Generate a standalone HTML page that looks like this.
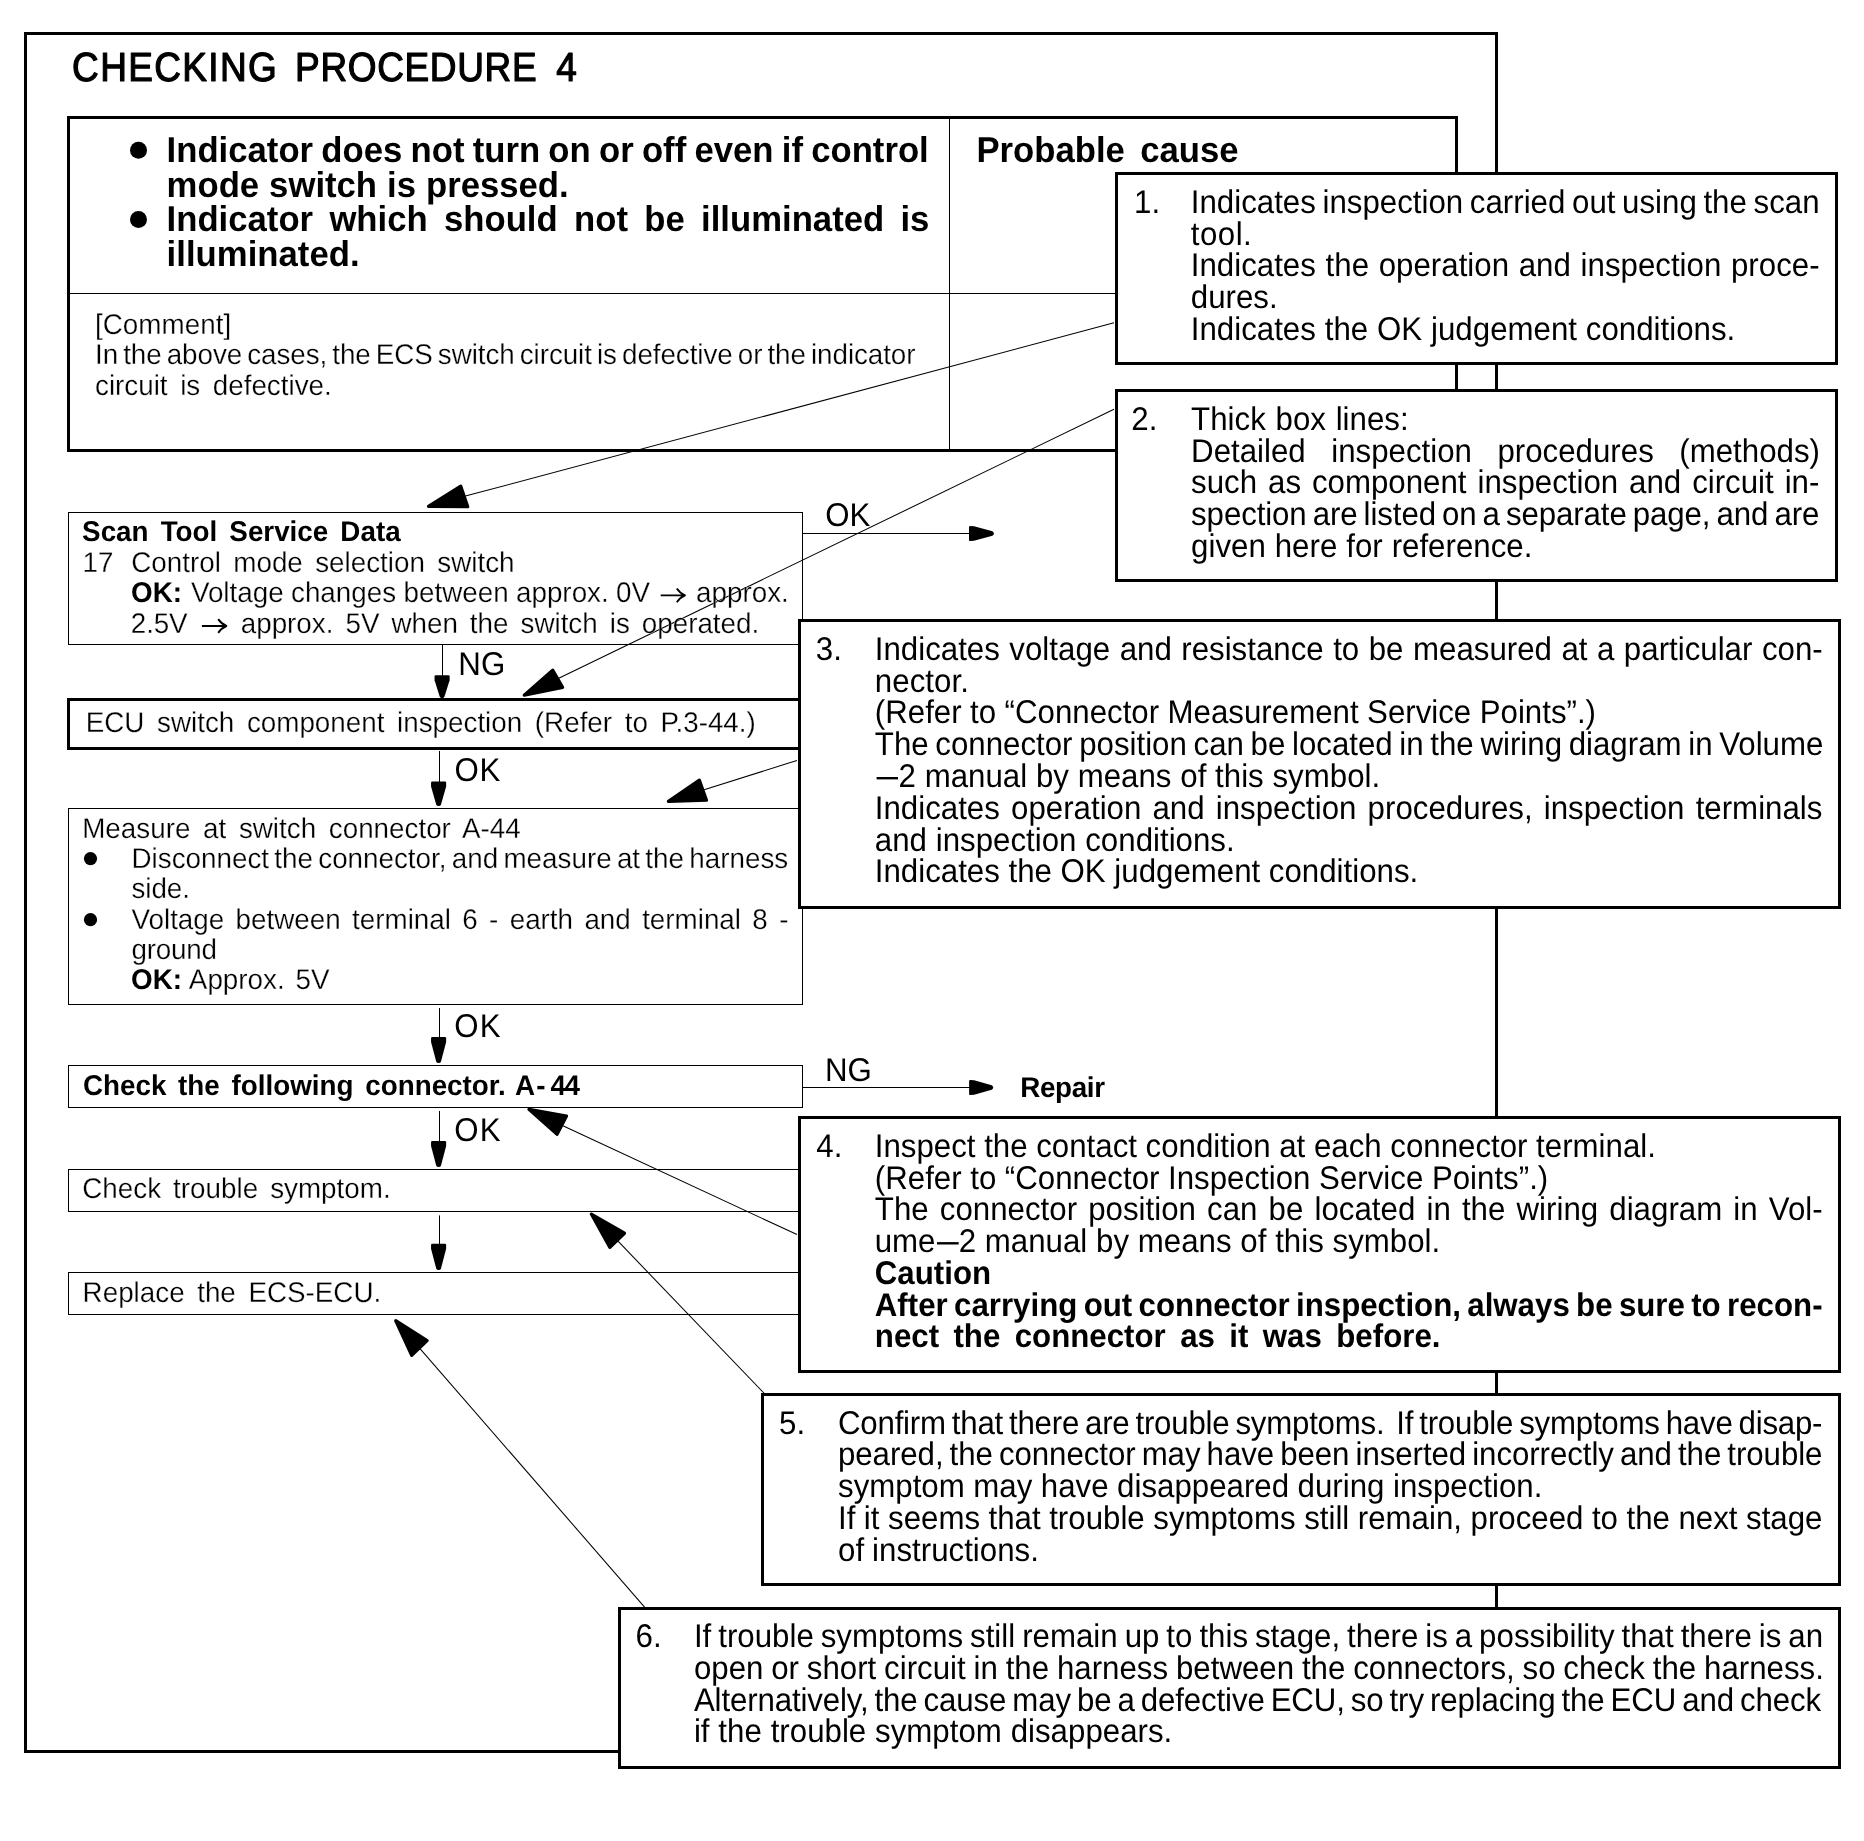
<!DOCTYPE html>
<html lang="en"><head><meta charset="utf-8"><title>Checking Procedure 4</title>
<style>html,body{margin:0;padding:0;background:#fff}body{width:1864px;height:1841px;overflow:hidden;position:relative}svg{display:block;position:absolute;left:0;top:0;filter:grayscale(1)}text{font-family:"Liberation Sans",sans-serif;fill:#000;white-space:pre;text-rendering:geometricPrecision}.b{font-weight:700}.t{stroke:#fff;stroke-width:0.25px}.f{stroke:#000;stroke-width:1.1px;stroke-linejoin:round}</style></head><body>
<svg width="1864" height="1841" viewBox="0 0 1864 1841">
<rect x="0" y="0" width="1864" height="1841" fill="#fff"/>
<rect x="25.50" y="33.50" width="1471.00" height="1718.00" fill="none" stroke="#000" stroke-width="3"/>
<rect x="68.50" y="117.50" width="1388.00" height="333.00" fill="none" stroke="#000" stroke-width="3"/>
<line x1="949.50" y1="118.00" x2="949.50" y2="450.00" stroke="#000" stroke-width="1"/>
<line x1="69.00" y1="293.50" x2="1456.00" y2="293.50" stroke="#000" stroke-width="1"/>
<circle cx="138.50" cy="150.30" r="8.50" fill="#000"/>
<circle cx="138.50" cy="219.40" r="8.50" fill="#000"/>
<line x1="465.40" y1="496.10" x2="1114.00" y2="322.80" stroke="#000" stroke-width="1.05"/>
<polygon points="428.44,506.37 460.77,486.17 467.75,506.73" fill="#000" stroke="#000" stroke-width="3.2" stroke-linejoin="round"/>
<line x1="558.75" y1="678.20" x2="1114.00" y2="409.30" stroke="#000" stroke-width="1.05"/>
<polygon points="524.24,695.10 552.67,670.17 562.63,687.37" fill="#000" stroke="#000" stroke-width="3.2" stroke-linejoin="round"/>
<rect x="68.50" y="512.50" width="734.00" height="132.00" fill="none" stroke="#000" stroke-width="1"/>
<rect x="68.50" y="699.50" width="733.00" height="49.00" fill="none" stroke="#000" stroke-width="3"/>
<rect x="68.50" y="808.50" width="734.00" height="196.00" fill="none" stroke="#000" stroke-width="1"/>
<rect x="68.50" y="1065.50" width="734.00" height="42.00" fill="none" stroke="#000" stroke-width="1"/>
<rect x="68.50" y="1169.50" width="734.00" height="42.00" fill="none" stroke="#000" stroke-width="1"/>
<rect x="68.50" y="1272.50" width="734.00" height="42.00" fill="none" stroke="#000" stroke-width="1"/>
<circle cx="90.50" cy="858.60" r="6.60" fill="#000"/>
<circle cx="90.50" cy="919.70" r="6.60" fill="#000"/>
<line x1="442.50" y1="645.00" x2="442.50" y2="677.20" stroke="#000" stroke-width="1"/>
<path d="M434.55,676.40 Q434.55,675.20 435.75,675.20 L448.45,675.20 Q449.65,675.20 449.65,676.40 L449.65,680.20 L444.50,696.60 Q443.90,698.20 442.10,698.20 Q440.30,698.20 439.70,696.60 L434.55,680.20 Z" fill="#000"/>
<line x1="439.50" y1="751.00" x2="439.50" y2="783.40" stroke="#000" stroke-width="1"/>
<path d="M431.05,782.60 Q431.05,781.40 432.25,781.40 L444.95,781.40 Q446.15,781.40 446.15,782.60 L446.15,786.40 L441.00,804.40 Q440.40,806.00 438.60,806.00 Q436.80,806.00 436.20,804.40 L431.05,786.40 Z" fill="#000"/>
<line x1="439.50" y1="1008.00" x2="439.50" y2="1039.00" stroke="#000" stroke-width="1"/>
<path d="M431.05,1038.20 Q431.05,1037.00 432.25,1037.00 L444.95,1037.00 Q446.15,1037.00 446.15,1038.20 L446.15,1042.00 L441.00,1061.40 Q440.40,1063.00 438.60,1063.00 Q436.80,1063.00 436.20,1061.40 L431.05,1042.00 Z" fill="#000"/>
<line x1="439.50" y1="1111.00" x2="439.50" y2="1143.00" stroke="#000" stroke-width="1"/>
<path d="M431.05,1142.20 Q431.05,1141.00 432.25,1141.00 L444.95,1141.00 Q446.15,1141.00 446.15,1142.20 L446.15,1146.00 L441.00,1165.40 Q440.40,1167.00 438.60,1167.00 Q436.80,1167.00 436.20,1165.40 L431.05,1146.00 Z" fill="#000"/>
<line x1="439.50" y1="1215.40" x2="439.50" y2="1245.80" stroke="#000" stroke-width="1"/>
<path d="M431.05,1245.00 Q431.05,1243.80 432.25,1243.80 L444.95,1243.80 Q446.15,1243.80 446.15,1245.00 L446.15,1248.80 L441.00,1268.50 Q440.40,1270.10 438.60,1270.10 Q436.80,1270.10 436.20,1268.50 L431.05,1248.80 Z" fill="#000"/>
<line x1="803.00" y1="533.50" x2="971.00" y2="533.50" stroke="#000" stroke-width="1"/>
<path d="M970.20,525.90 Q969.00,525.90 969.00,527.10 L969.00,539.90 Q969.00,541.10 970.20,541.10 L974.00,540.80 L992.40,535.80 Q993.90,535.10 993.90,533.50 Q993.90,531.90 992.40,531.20 L974.00,526.20 Z" fill="#000"/>
<line x1="803.00" y1="1087.50" x2="971.10" y2="1087.50" stroke="#000" stroke-width="1"/>
<path d="M970.30,1079.90 Q969.10,1079.90 969.10,1081.10 L969.10,1093.90 Q969.10,1095.10 970.30,1095.10 L974.10,1094.80 L991.70,1089.80 Q993.20,1089.10 993.20,1087.50 Q993.20,1085.90 991.70,1085.20 L974.10,1080.20 Z" fill="#000"/>
<line x1="704.10" y1="789.80" x2="797.00" y2="760.40" stroke="#000" stroke-width="1.05"/>
<polygon points="668.42,801.41 699.41,780.19 706.53,800.17" fill="#000" stroke="#000" stroke-width="3.2" stroke-linejoin="round"/>
<line x1="562.90" y1="1125.70" x2="797.00" y2="1234.60" stroke="#000" stroke-width="1.05"/>
<polygon points="528.94,1109.30 566.55,1116.09 557.08,1134.23" fill="#000" stroke="#000" stroke-width="3.2" stroke-linejoin="round"/>
<line x1="618.05" y1="1241.20" x2="764.30" y2="1393.50" stroke="#000" stroke-width="1.05"/>
<polygon points="591.32,1214.04 624.51,1233.25 609.89,1247.40" fill="#000" stroke="#000" stroke-width="3.2" stroke-linejoin="round"/>
<line x1="420.20" y1="1348.85" x2="645.00" y2="1607.60" stroke="#000" stroke-width="1.05"/>
<polygon points="395.75,1320.71 427.11,1340.55 411.70,1355.40" fill="#000" stroke="#000" stroke-width="3.2" stroke-linejoin="round"/>
<rect x="1116.50" y="173.50" width="720.00" height="190.00" fill="#fff" stroke="#000" stroke-width="3"/>
<rect x="1116.50" y="390.50" width="720.00" height="190.00" fill="#fff" stroke="#000" stroke-width="3"/>
<rect x="799.50" y="620.50" width="1040.00" height="287.00" fill="#fff" stroke="#000" stroke-width="3"/>
<rect x="799.50" y="1117.50" width="1040.00" height="254.00" fill="#fff" stroke="#000" stroke-width="3"/>
<rect x="762.50" y="1394.50" width="1077.00" height="190.00" fill="#fff" stroke="#000" stroke-width="3"/>
<rect x="619.50" y="1608.50" width="1220.00" height="159.00" fill="#fff" stroke="#000" stroke-width="3"/>
<text class="f" x="72.12" y="81.10" transform="matrix(1 0 0 1.1 0 -8.110)" style="font-size:37.0px;letter-spacing:1.333px;" xml:space="preserve">CHECKING</text>
<text class="f" x="295.06" y="81.10" transform="matrix(1 0 0 1.1 0 -8.110)" style="font-size:37.0px;letter-spacing:0.650px;" xml:space="preserve">PROCEDURE</text>
<text class="f" x="556.25" y="81.10" transform="matrix(1 0 0 1.1 0 -8.110)" style="font-size:37.0px;" xml:space="preserve">4</text>
<text class="b" x="166.60" y="162.10" transform="matrix(1 0 0 1.035 0 -5.673)" style="font-size:34.7px;word-spacing:-1.392px;" xml:space="preserve">Indicator does not turn on or off even if control</text>
<text class="b" x="166.60" y="196.60" transform="matrix(1 0 0 1.035 0 -6.881)" style="font-size:34.7px;word-spacing:0.368px;" xml:space="preserve">mode switch is pressed.</text>
<text class="b" x="166.60" y="231.00" transform="matrix(1 0 0 1.035 0 -8.085)" style="font-size:34.7px;word-spacing:6.687px;" xml:space="preserve">Indicator which should not be illuminated is</text>
<text class="b" x="166.60" y="265.50" transform="matrix(1 0 0 1.035 0 -9.292)" style="font-size:34.7px;letter-spacing:0.023px;" xml:space="preserve">illuminated.</text>
<text class="b" x="976.48" y="162.00" transform="matrix(1 0 0 1.035 0 -5.670)" style="font-size:34.7px;word-spacing:5.685px;" xml:space="preserve">Probable cause</text>
<text class="t" x="95.00" y="334.00" transform="matrix(1 0 0 1.025 0 -8.350)" style="font-size:27.8px;letter-spacing:0.031px;" xml:space="preserve">[Comment]</text>
<text class="t" x="95.00" y="364.20" transform="matrix(1 0 0 1.025 0 -9.105)" style="font-size:27.8px;word-spacing:-2.500px;letter-spacing:-0.077px;" xml:space="preserve">In the above cases, the ECS switch circuit is defective or the indicator</text>
<text class="t" x="95.00" y="394.80" transform="matrix(1 0 0 1.025 0 -9.870)" style="font-size:27.8px;word-spacing:4.822px;" xml:space="preserve">circuit is defective.</text>
<text class="b" x="82.10" y="541.00" transform="matrix(1 0 0 1.025 0 -13.525)" style="font-size:27.8px;word-spacing:4.383px;" xml:space="preserve">Scan Tool Service Data</text>
<text class="t" x="82.48" y="571.60" transform="matrix(1 0 0 1.025 0 -14.290)" style="font-size:27.8px;" xml:space="preserve">17</text>
<text class="t" x="131.29" y="571.60" transform="matrix(1 0 0 1.025 0 -14.290)" style="font-size:27.8px;word-spacing:4.656px;" xml:space="preserve">Control mode selection switch</text>
<text class="b" x="131.06" y="602.00" transform="matrix(1 0 0 1.025 0 -15.050)" style="font-size:27.8px;" xml:space="preserve">OK:</text>
<text class="t" x="190.88" y="602.00" transform="matrix(1 0 0 1.025 0 -15.050)" style="font-size:27.8px;word-spacing:-0.326px;" xml:space="preserve">Voltage changes between approx. 0V</text>
<text class="t" x="696.02" y="602.00" transform="matrix(1 0 0 1.025 0 -15.050)" style="font-size:27.8px;letter-spacing:0.017px;" xml:space="preserve">approx.</text>
<text class="t" x="130.80" y="632.60" transform="matrix(1 0 0 1.025 0 -15.815)" style="font-size:27.8px;letter-spacing:-0.122px;" xml:space="preserve">2.5V</text>
<text class="t" x="240.72" y="632.60" transform="matrix(1 0 0 1.025 0 -15.815)" style="font-size:27.8px;word-spacing:4.269px;" xml:space="preserve">approx. 5V when the switch is operated.</text>
<text x="825.32" y="526.50" transform="matrix(1 0 0 1.05 0 -26.325)" style="font-size:31.25px;letter-spacing:-0.025px;" xml:space="preserve">OK</text>
<text x="458.34" y="675.00" transform="matrix(1 0 0 1.05 0 -33.750)" style="font-size:31.25px;" xml:space="preserve">NG</text>
<text x="454.52" y="780.90" transform="matrix(1 0 0 1.05 0 -39.045)" style="font-size:31.25px;letter-spacing:0.675px;" xml:space="preserve">OK</text>
<text x="454.32" y="1036.90" transform="matrix(1 0 0 1.05 0 -51.845)" style="font-size:31.25px;letter-spacing:1.075px;" xml:space="preserve">OK</text>
<text x="454.32" y="1140.90" transform="matrix(1 0 0 1.05 0 -57.045)" style="font-size:31.25px;letter-spacing:1.075px;" xml:space="preserve">OK</text>
<text x="824.94" y="1080.80" transform="matrix(1 0 0 1.05 0 -54.040)" style="font-size:31.25px;" xml:space="preserve">NG</text>
<text class="b" x="1020.14" y="1096.70" transform="matrix(1 0 0 1.025 0 -27.417)" style="font-size:27.8px;letter-spacing:-0.307px;" xml:space="preserve">Repair</text>
<text class="t" x="85.72" y="732.00" transform="matrix(1 0 0 1.025 0 -18.300)" style="font-size:27.8px;word-spacing:4.905px;" xml:space="preserve">ECU switch component inspection (Refer to P.3-44.)</text>
<text class="t" x="82.22" y="838.00" transform="matrix(1 0 0 1.025 0 -20.950)" style="font-size:27.8px;word-spacing:4.944px;" xml:space="preserve">Measure at switch connector A-44</text>
<text class="t" x="131.50" y="867.90" transform="matrix(1 0 0 1.025 0 -21.697)" style="font-size:27.8px;word-spacing:-2.431px;" xml:space="preserve">Disconnect the connector, and measure at the harness</text>
<text class="t" x="131.50" y="898.40" transform="matrix(1 0 0 1.025 0 -22.460)" style="font-size:27.8px;letter-spacing:-0.070px;" xml:space="preserve">side.</text>
<text class="t" x="131.50" y="928.90" transform="matrix(1 0 0 1.025 0 -23.222)" style="font-size:27.8px;word-spacing:3.632px;" xml:space="preserve">Voltage between terminal 6 - earth and terminal 8 -</text>
<text class="t" x="131.50" y="958.90" transform="matrix(1 0 0 1.025 0 -23.972)" style="font-size:27.8px;letter-spacing:-0.214px;" xml:space="preserve">ground</text>
<text class="b" x="131.06" y="989.30" transform="matrix(1 0 0 1.025 0 -24.732)" style="font-size:27.8px;" xml:space="preserve">OK:</text>
<text class="t" x="188.85" y="989.30" transform="matrix(1 0 0 1.025 0 -24.732)" style="font-size:27.8px;word-spacing:3.145px;" xml:space="preserve">Approx. 5V</text>
<text class="b" x="82.96" y="1094.80" transform="matrix(1 0 0 1.025 0 -27.370)" style="font-size:27.8px;word-spacing:4.009px;" xml:space="preserve">Check the following connector.</text>
<text class="b" x="515.01" y="1094.80" transform="matrix(1 0 0 1.025 0 -27.370)" style="font-size:27.8px;letter-spacing:1.262px;" xml:space="preserve">A-</text>
<text class="b" x="550.58" y="1094.80" transform="matrix(1 0 0 1.025 0 -27.370)" style="font-size:27.8px;letter-spacing:-1.452px;" xml:space="preserve">44</text>
<text class="t" x="82.29" y="1198.00" transform="matrix(1 0 0 1.025 0 -29.950)" style="font-size:27.8px;word-spacing:4.323px;" xml:space="preserve">Check trouble symptom.</text>
<text class="t" x="82.62" y="1301.90" transform="matrix(1 0 0 1.025 0 -32.547)" style="font-size:27.8px;word-spacing:4.856px;" xml:space="preserve">Replace the ECS-ECU.</text>
<text x="1134.00" y="213.00" transform="matrix(1 0 0 1.05 0 -10.650)" style="font-size:31.25px;" xml:space="preserve">1.</text>
<text x="1190.80" y="213.00" transform="matrix(1 0 0 1.05 0 -10.650)" style="font-size:31.25px;word-spacing:-2.048px;" xml:space="preserve">Indicates inspection carried out using the scan</text>
<text x="1190.80" y="244.70" transform="matrix(1 0 0 1.05 0 -12.235)" style="font-size:31.25px;letter-spacing:0.469px;" xml:space="preserve">tool.</text>
<text x="1190.80" y="276.40" transform="matrix(1 0 0 1.05 0 -13.820)" style="font-size:31.25px;word-spacing:1.020px;" xml:space="preserve">Indicates the operation and inspection proce-</text>
<text x="1190.80" y="308.10" transform="matrix(1 0 0 1.05 0 -15.405)" style="font-size:31.25px;" xml:space="preserve">dures.</text>
<text x="1190.80" y="339.80" transform="matrix(1 0 0 1.05 0 -16.990)" style="font-size:31.25px;word-spacing:0.180px;" xml:space="preserve">Indicates the OK judgement conditions.</text>
<text x="1131.30" y="429.80" transform="matrix(1 0 0 1.05 0 -21.490)" style="font-size:31.25px;" xml:space="preserve">2.</text>
<text x="1191.10" y="429.80" transform="matrix(1 0 0 1.05 0 -21.490)" style="font-size:31.25px;word-spacing:1.089px;" xml:space="preserve">Thick box lines:</text>
<text x="1191.10" y="461.60" transform="matrix(1 0 0 1.05 0 -23.080)" style="font-size:31.25px;word-spacing:16.800px;" xml:space="preserve">Detailed inspection procedures (methods)</text>
<text x="1191.10" y="493.40" transform="matrix(1 0 0 1.05 0 -24.670)" style="font-size:31.25px;word-spacing:2.228px;" xml:space="preserve">such as component inspection and circuit in-</text>
<text x="1191.10" y="525.20" transform="matrix(1 0 0 1.05 0 -26.260)" style="font-size:31.25px;word-spacing:-2.500px;letter-spacing:-0.108px;" xml:space="preserve">spection are listed on a separate page, and are</text>
<text x="1191.10" y="557.00" transform="matrix(1 0 0 1.05 0 -27.850)" style="font-size:31.25px;word-spacing:0.256px;" xml:space="preserve">given here for reference.</text>
<text x="815.80" y="659.80" transform="matrix(1 0 0 1.05 0 -32.990)" style="font-size:31.25px;" xml:space="preserve">3.</text>
<text x="874.80" y="659.80" transform="matrix(1 0 0 1.05 0 -32.990)" style="font-size:31.25px;word-spacing:0.811px;" xml:space="preserve">Indicates voltage and resistance to be measured at a particular con-</text>
<text x="874.80" y="691.60" transform="matrix(1 0 0 1.05 0 -34.580)" style="font-size:31.25px;letter-spacing:0.057px;" xml:space="preserve">nector.</text>
<text x="874.80" y="723.40" transform="matrix(1 0 0 1.05 0 -36.170)" style="font-size:31.25px;word-spacing:-0.252px;" xml:space="preserve">(Refer to “Connector Measurement Service Points”.)</text>
<text x="874.80" y="755.20" transform="matrix(1 0 0 1.05 0 -37.760)" style="font-size:31.25px;word-spacing:-2.043px;" xml:space="preserve">The connector position can be located in the wiring diagram in Volume</text>
<text x="874.80" y="818.80" transform="matrix(1 0 0 1.05 0 -40.940)" style="font-size:31.25px;word-spacing:2.462px;" xml:space="preserve">Indicates operation and inspection procedures, inspection terminals</text>
<text x="874.80" y="850.60" transform="matrix(1 0 0 1.05 0 -42.530)" style="font-size:31.25px;word-spacing:0.114px;" xml:space="preserve">and inspection conditions.</text>
<text x="874.80" y="882.40" transform="matrix(1 0 0 1.05 0 -44.120)" style="font-size:31.25px;word-spacing:-0.070px;" xml:space="preserve">Indicates the OK judgement conditions.</text>
<text x="898.53" y="787.00" transform="matrix(1 0 0 1.05 0 -39.350)" style="font-size:31.25px;word-spacing:0.083px;" xml:space="preserve">2 manual by means of this symbol.</text>
<text x="816.30" y="1156.90" transform="matrix(1 0 0 1.05 0 -57.845)" style="font-size:31.25px;" xml:space="preserve">4.</text>
<text x="874.80" y="1156.90" transform="matrix(1 0 0 1.05 0 -57.845)" style="font-size:31.25px;word-spacing:-0.081px;" xml:space="preserve">Inspect the contact condition at each connector terminal.</text>
<text x="874.80" y="1188.65" transform="matrix(1 0 0 1.05 0 -59.433)" style="font-size:31.25px;word-spacing:-0.091px;" xml:space="preserve">(Refer to “Connector Inspection Service Points”.)</text>
<text x="874.80" y="1220.40" transform="matrix(1 0 0 1.05 0 -61.020)" style="font-size:31.25px;word-spacing:2.474px;" xml:space="preserve">The connector position can be located in the wiring diagram in Vol-</text>
<text x="874.80" y="1252.15" transform="matrix(1 0 0 1.05 0 -62.608)" style="font-size:31.25px;letter-spacing:-0.104px;" xml:space="preserve">ume</text>
<text class="b" x="874.80" y="1283.90" transform="matrix(1 0 0 1.05 0 -64.195)" style="font-size:31.25px;" xml:space="preserve">Caution</text>
<text class="b" x="874.80" y="1315.65" transform="matrix(1 0 0 1.05 0 -65.783)" style="font-size:31.25px;word-spacing:-2.358px;" xml:space="preserve">After carrying out connector inspection, always be sure to recon-</text>
<text class="b" x="874.80" y="1347.40" transform="matrix(1 0 0 1.05 0 -67.370)" style="font-size:31.25px;word-spacing:5.710px;" xml:space="preserve">nect the connector as it was before.</text>
<text x="958.63" y="1252.15" transform="matrix(1 0 0 1.05 0 -62.608)" style="font-size:31.25px;word-spacing:0.083px;" xml:space="preserve">2 manual by means of this symbol.</text>
<text x="779.00" y="1433.80" transform="matrix(1 0 0 1.05 0 -71.690)" style="font-size:31.25px;" xml:space="preserve">5.</text>
<text x="838.00" y="1433.80" transform="matrix(1 0 0 1.05 0 -71.690)" style="font-size:31.25px;word-spacing:-2.500px;letter-spacing:-0.225px;" xml:space="preserve">Confirm that there are trouble symptoms.  If trouble symptoms have disap-</text>
<text x="838.00" y="1465.50" transform="matrix(1 0 0 1.05 0 -73.275)" style="font-size:31.25px;word-spacing:-2.500px;letter-spacing:-0.071px;" xml:space="preserve">peared, the connector may have been inserted incorrectly and the trouble</text>
<text x="838.00" y="1497.20" transform="matrix(1 0 0 1.05 0 -74.860)" style="font-size:31.25px;word-spacing:-0.179px;" xml:space="preserve">symptom may have disappeared during inspection.</text>
<text x="838.00" y="1528.90" transform="matrix(1 0 0 1.05 0 -76.445)" style="font-size:31.25px;word-spacing:-0.173px;" xml:space="preserve">If it seems that trouble symptoms still remain, proceed to the next stage</text>
<text x="838.00" y="1560.60" transform="matrix(1 0 0 1.05 0 -78.030)" style="font-size:31.25px;word-spacing:-0.631px;" xml:space="preserve">of instructions.</text>
<text x="635.60" y="1646.90" transform="matrix(1 0 0 1.05 0 -82.345)" style="font-size:31.25px;" xml:space="preserve">6.</text>
<text x="693.90" y="1646.90" transform="matrix(1 0 0 1.05 0 -82.345)" style="font-size:31.25px;word-spacing:-1.722px;" xml:space="preserve">If trouble symptoms still remain up to this stage, there is a possibility that there is an</text>
<text x="693.90" y="1678.73" transform="matrix(1 0 0 1.05 0 -83.937)" style="font-size:31.25px;word-spacing:-0.864px;" xml:space="preserve">open or short circuit in the harness between the connectors, so check the harness.</text>
<text x="693.90" y="1710.56" transform="matrix(1 0 0 1.05 0 -85.528)" style="font-size:31.25px;word-spacing:-2.500px;letter-spacing:-0.140px;" xml:space="preserve">Alternatively, the cause may be a defective ECU, so try replacing the ECU and check</text>
<text x="693.90" y="1742.39" transform="matrix(1 0 0 1.05 0 -87.120)" style="font-size:31.25px;word-spacing:0.170px;" xml:space="preserve">if the trouble symptom disappears.</text>
<path d="M660.70,595.40 L684.60,595.40 M676.80,588.50 Q680.10,593.40 685.00,595.40 Q680.10,597.40 676.80,602.30" fill="none" stroke="#000" stroke-width="1.9" stroke-linecap="butt" stroke-linejoin="round"/>
<path d="M201.90,626.00 L226.00,626.00 M218.20,619.10 Q221.50,624.00 226.40,626.00 Q221.50,628.00 218.20,632.90" fill="none" stroke="#000" stroke-width="1.9" stroke-linecap="butt" stroke-linejoin="round"/>
<line x1="876.60" y1="778.20" x2="898.00" y2="778.20" stroke="#000" stroke-width="2.4"/>
<line x1="937.00" y1="1243.30" x2="958.70" y2="1243.30" stroke="#000" stroke-width="2.4"/>
</svg></body></html>
